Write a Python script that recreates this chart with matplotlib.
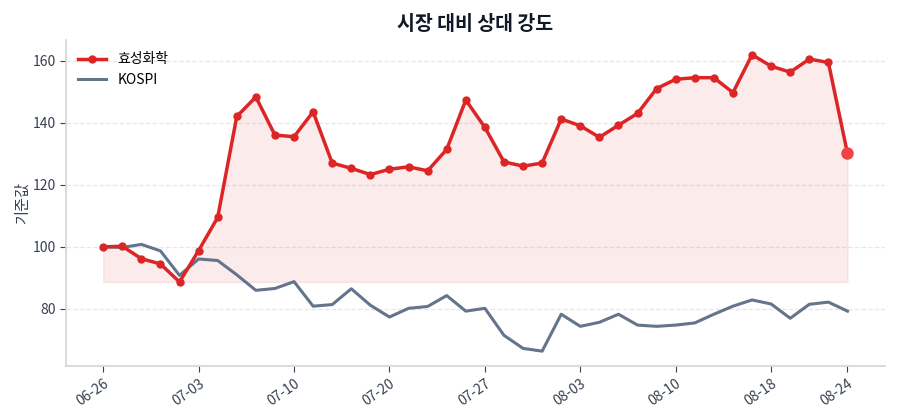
import numpy as np
import matplotlib
matplotlib.use("Agg")
import matplotlib.pyplot as plt

plt.rcParams['font.family'] = ['Noto Sans CJK KR', 'DejaVu Sans']

dates = ["06-26", "06-27", "06-28", "06-29", "06-30",
         "07-03", "07-04", "07-05", "07-06", "07-07",
         "07-10", "07-11", "07-12", "07-13", "07-14",
         "07-20", "07-21", "07-24", "07-25", "07-26",
         "07-27", "07-28", "07-31", "08-01", "08-02",
         "08-03", "08-04", "08-07", "08-08", "08-09",
         "08-10", "08-11", "08-14", "08-16", "08-17",
         "08-18", "08-21", "08-22", "08-23", "08-24"]

stock = [100.0, 100.2, 96.2, 94.5, 88.7, 98.8, 109.5, 142.0, 148.3, 136.0,
         135.5, 143.5, 127.0, 125.3, 123.3, 125.0, 125.8, 124.5, 131.4, 147.3,
         138.5, 127.4, 126.0, 127.0, 141.2, 139.0, 135.3, 139.2, 143.0, 151.0,
         154.0, 154.5, 154.5, 149.7, 161.9, 158.2, 156.3, 160.5, 159.4, 130.1]

kospi = [100.0, 99.8, 100.8, 98.7, 90.8, 96.1, 95.6, 91.0, 86.0, 86.6,
         88.8, 80.9, 81.4, 86.5, 81.2, 77.4, 80.2, 80.8, 84.3, 79.3,
         80.2, 71.5, 67.3, 66.4, 78.3, 74.4, 75.7, 78.3, 74.8, 74.4,
         74.8, 75.5, 78.3, 80.9, 82.9, 81.6, 77.0, 81.5, 82.2, 79.3]

stock_name = "효성화학"
index_name = "KOSPI"

red = "#dc2626"
slate = "#64748b"

fig = plt.figure(figsize=(9, 4.2), dpi=100)
ax = fig.add_axes([0.0733, 0.1286, 0.9097, 0.7764])

x = np.arange(len(dates))
ax.fill_between(x, stock, min(stock), color=red, alpha=0.09, linewidth=1)
ax.plot(x, stock, color=red, linewidth=2.5, marker="o", markersize=5, label=stock_name, zorder=3)
ax.plot(x, kospi, color=slate, linewidth=2.2, label=index_name, zorder=2)
ax.plot(x[-1], stock[-1], "o", color="#ef4444", markersize=8, zorder=4)

ticks = list(range(0, len(dates), 5)) + [len(dates) - 1]
ax.set_xticks(ticks)
ax.set_xticklabels([dates[i] for i in ticks], rotation=35, ha="right", rotation_mode="anchor")
ax.set_yticks([80, 100, 120, 140, 160])

ax.grid(axis="y", linestyle="--", color="#e5e7eb", linewidth=0.9)
ax.set_axisbelow(True)
for s in ["top", "right"]:
    ax.spines[s].set_visible(False)
for s in ["left", "bottom"]:
    ax.spines[s].set_color("#d1d5db")
    ax.spines[s].set_linewidth(1.2)
ax.tick_params(colors="#374151", labelsize=10, length=4)
for t in ax.get_xticklabels() + ax.get_yticklabels():
    t.set_color("#374151")

ax.set_ylabel("기준값", color="#374151", fontsize=11, labelpad=1)
ax.set_title("시장 대비 상대 강도", fontsize=14, fontweight="bold", color="#111827", pad=7)
ax.legend(loc="upper left", frameon=False, fontsize=10)

fig.savefig("out.png", dpi=100)
